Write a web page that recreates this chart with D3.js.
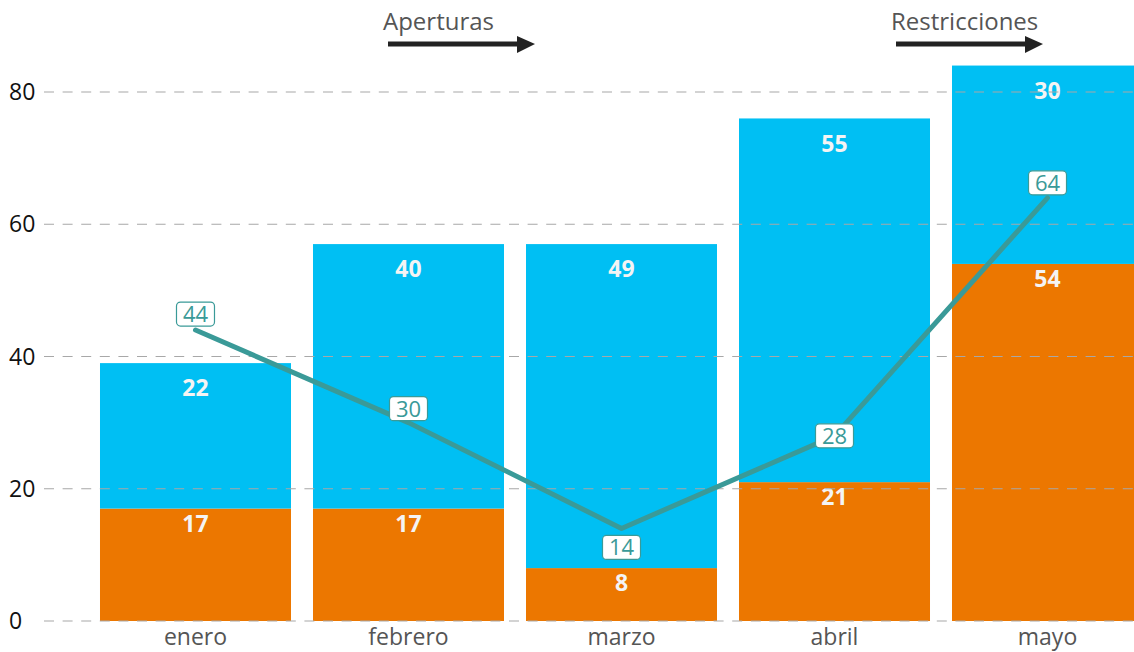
<!DOCTYPE html>
<html>
<head>
<meta charset="utf-8">
<script src="https://cdn.jsdelivr.net/npm/d3@7"></script>
<style>
  body { margin: 0; background: #fff; }
  svg { display: block; font-family: "Open Sans", "Noto Sans", sans-serif; }
</style>
</head>
<body>
<div id="chart"></div>
<script>
// data
var months = ["enero", "febrero", "marzo", "abril", "mayo"];
var orangeVals = [17, 17, 8, 21, 54];
var blueVals = [22, 40, 49, 55, 30];
var lineVals = [44, 30, 14, 28, 64];
var yTicks = [0, 20, 40, 60, 80];
var noteTexts = ["Aperturas", "Restricciones"];

// layout
var width = 1134, height = 652;
var colOrange = "#ec7700", colBlue = "#00bff3", colLine = "#3a9a98";
var noteX = [383, 891];
var labelDy = [-16, -14, 19, 0, -15];

var svg = d3.select("#chart").append("svg")
    .attr("width", width)
    .attr("height", height);

var x = d3.scaleBand()
    .domain(months)
    .range([89, 89 + 5 * 213])
    .paddingInner(22 / 213)
    .paddingOuter(0.0516);

var y = d3.scaleLinear()
    .domain([0, 80])
    .range([621, 92]);

var rows = months.map(function(m, i) {
  return {m: m, o: orangeVals[i], b: blueVals[i], l: lineVals[i]};
});
var cx = function(d) { return x(d.m) + x.bandwidth() / 2; };

// stacked bars
var bars = svg.append("g").selectAll("g")
    .data(rows).enter().append("g");

bars.append("rect")
    .attr("x", function(d) { return x(d.m); })
    .attr("width", x.bandwidth())
    .attr("y", function(d) { return y(d.o); })
    .attr("height", function(d) { return y(0) - y(d.o); })
    .attr("fill", colOrange);

bars.append("rect")
    .attr("x", function(d) { return x(d.m); })
    .attr("width", x.bandwidth())
    .attr("y", function(d) { return y(d.o + d.b); })
    .attr("height", function(d) { return y(d.o) - y(d.o + d.b); })
    .attr("fill", colBlue);

// gridlines drawn over the bars
svg.append("g").selectAll("line")
    .data(yTicks).enter().append("line")
    .attr("x1", 44).attr("x2", width)
    .attr("y1", function(d) { return y(d); })
    .attr("y2", function(d) { return y(d); })
    .attr("stroke", "#a8a8a8")
    .attr("stroke-width", 1.2)
    .attr("stroke-dasharray", "10,8.6");

// y tick labels
svg.append("g").selectAll("text")
    .data(yTicks).enter().append("text")
    .attr("x", 9)
    .attr("y", function(d) { return y(d); })
    .attr("dy", "0.35em")
    .attr("font-size", 23)
    .attr("fill", "#111")
    .text(function(d) { return d; });

// month labels
svg.append("g").selectAll("text")
    .data(months).enter().append("text")
    .attr("x", function(d) { return x(d) + x.bandwidth() / 2; })
    .attr("y", 645)
    .attr("text-anchor", "middle")
    .attr("font-size", 23)
    .attr("fill", "#555")
    .text(function(d) { return d; });

// value labels in the bars
bars.append("text")
    .attr("x", cx)
    .attr("y", function(d) { return y(d.o) + 15; })
    .attr("dy", "0.35em")
    .attr("text-anchor", "middle")
    .attr("font-size", 23)
    .attr("font-weight", "bold")
    .attr("fill", "#f4f4f4")
    .text(function(d) { return d.o; });

bars.append("text")
    .attr("x", cx)
    .attr("y", function(d) { return y(d.o + d.b) + 25; })
    .attr("dy", "0.35em")
    .attr("text-anchor", "middle")
    .attr("font-size", 23)
    .attr("font-weight", "bold")
    .attr("fill", "#f4f4f4")
    .text(function(d) { return d.b; });

// line
svg.append("path")
    .datum(rows)
    .attr("fill", "none")
    .attr("stroke", colLine)
    .attr("stroke-width", 5)
    .attr("stroke-linecap", "round")
    .attr("stroke-linejoin", "round")
    .attr("d", d3.line()
      .x(cx)
      .y(function(d) { return y(d.l); }));

// line labels
var lab = svg.append("g").selectAll("g")
    .data(rows).enter().append("g")
    .attr("transform", function(d, i) {
      return "translate(" + cx(d) + "," + (y(d.l) + labelDy[i]) + ")";
    });

lab.append("rect")
    .attr("x", -19).attr("y", -12)
    .attr("width", 38).attr("height", 24)
    .attr("rx", 4)
    .attr("fill", "#fff")
    .attr("stroke", colLine)
    .attr("stroke-width", 1.2);

lab.append("text")
    .attr("text-anchor", "middle")
    .attr("dy", "0.36em")
    .attr("font-size", 22)
    .attr("fill", colLine)
    .text(function(d) { return d.l; });

// annotations with arrows
var ann = svg.append("g").selectAll("g")
    .data(noteTexts).enter().append("g");

ann.append("text")
    .attr("x", function(d, i) { return noteX[i]; })
    .attr("y", 30)
    .attr("font-size", 24)
    .attr("fill", "#555")
    .text(function(d) { return d; });

ann.append("line")
    .attr("x1", function(d, i) { return noteX[i] + 5; })
    .attr("x2", function(d, i) { return noteX[i] + 140; })
    .attr("y1", 44).attr("y2", 44)
    .attr("stroke", "#222")
    .attr("stroke-width", 5);

ann.append("path")
    .attr("d", function(d, i) {
      var tx = noteX[i] + 152;
      return "M" + (tx - 18) + ",36 L" + tx + ",44 L" + (tx - 18) + ",53 Z";
    })
    .attr("fill", "#222");
</script>
</body>
</html>
